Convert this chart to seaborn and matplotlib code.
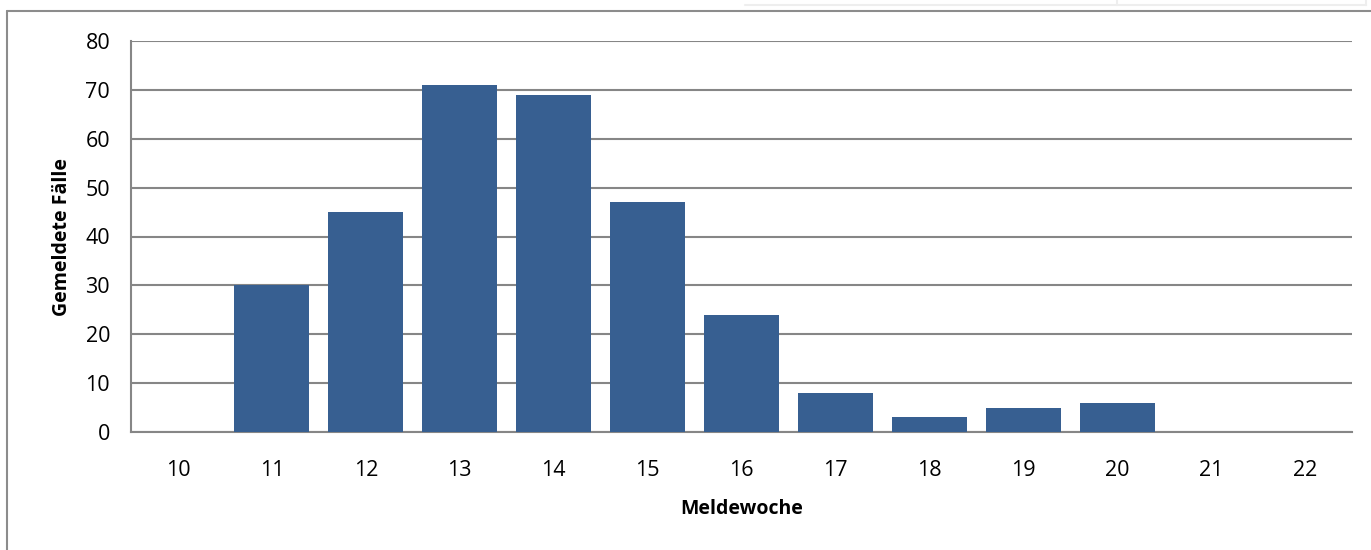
import matplotlib
matplotlib.use("Agg")
import matplotlib.pyplot as plt
import seaborn as sns
import pandas as pd
from matplotlib.lines import Line2D

# Meldewoche / gemeldete Fälle
weeks = ["10", "11", "12", "13", "14", "15", "16", "17", "18", "19", "20", "21", "22"]
cases = [0, 30, 45, 71, 69, 47, 24, 8, 3, 5, 6, 0, 0]
y_ticks = [0, 10, 20, 30, 40, 50, 60, 70, 80]

df = pd.DataFrame({"week": weeks, "cases": cases})

sns.set_style("white")
plt.rcParams['font.family'] = ['Open Sans', 'DejaVu Sans']

grid_col = "#868686"
bar_col = "#375F91"

fig = plt.figure(figsize=(13.71, 5.5), dpi=100)
ax = fig.add_axes([131 / 1371, 1 - 432 / 550, (1352 - 131) / 1371, (432 - 41) / 550])

sns.barplot(data=df, x="week", y="cases", color=bar_col, saturation=1,
            width=0.8, ax=ax, zorder=3, edgecolor="none")

ax.set_ylim(0, 80)
ax.set_xlim(-0.5, len(weeks) - 0.5)
ax.set_yticks(y_ticks)
ax.yaxis.grid(True, color=grid_col, linewidth=1.5, zorder=0)
ax.set_axisbelow(True)

# category labels centred, tick marks between categories
ax.set_xticks(range(len(weeks)))
ax.set_xticklabels(weeks)
ax.tick_params(axis="x", which="major", length=0, pad=20, labelsize=15.5, labelcolor="black")
ax.set_xticks([i - 0.5 for i in range(len(weeks) + 1)], minor=True)
ax.tick_params(axis="x", which="minor", length=8, width=1.5, color=grid_col, direction="out")
ax.tick_params(axis="y", length=8, width=1.5, color=grid_col, direction="out", labelsize=15.5, pad=7,
               labelcolor="black")

for s in ["top", "right"]:
    ax.spines[s].set_visible(False)
for s in ["left", "bottom"]:
    ax.spines[s].set_color(grid_col)
    ax.spines[s].set_linewidth(1.5)

ax.set_xlabel("Meldewoche", fontsize=14, fontweight="bold", labelpad=13, color="black")
ax.set_ylabel("Gemeldete Fälle", fontsize=14, fontweight="bold", labelpad=10, color="black")

# chart frame
fig.add_artist(Line2D([7 / 1371, 7 / 1371], [0, 1 - 11 / 550], transform=fig.transFigure,
                      color="#8c8c8c", linewidth=1.5))
fig.add_artist(Line2D([7 / 1371, 1], [1 - 11 / 550, 1 - 11 / 550], transform=fig.transFigure,
                      color="#8c8c8c", linewidth=1.5))
# faint spreadsheet cells at the top right
fig.add_artist(Line2D([745 / 1371, 1366 / 1371], [1 - 5 / 550, 1 - 5 / 550], transform=fig.transFigure,
                      color="#eeeeee", linewidth=1.5))
for xp in [1117, 1366]:
    fig.add_artist(Line2D([xp / 1371, xp / 1371], [1 - 5 / 550, 1], transform=fig.transFigure,
                          color="#eeeeee", linewidth=1.5))

fig.savefig("out.png", dpi=100, facecolor="white")
